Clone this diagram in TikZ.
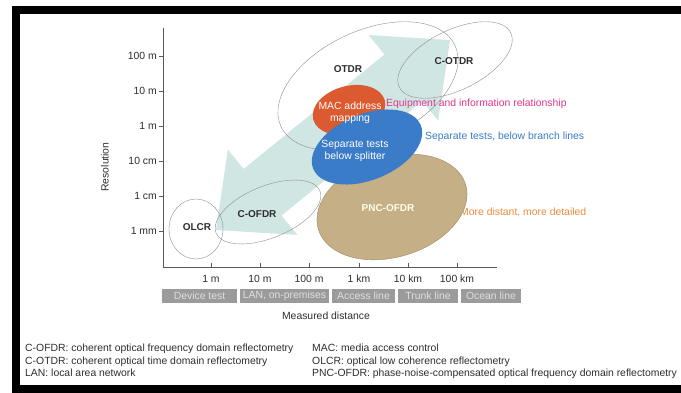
\documentclass[tikz,border=0pt]{standalone}
\usepackage{fontspec}
\setmainfont{Liberation Sans}
\usepackage{xcolor}
\definecolor{arrow-teal}{HTML}{CFE6E3}
\definecolor{mac-red}{HTML}{DC5A30}
\definecolor{split-blue}{HTML}{3B7CC8}
\definecolor{pnc-tan}{HTML}{C4AF86}
\definecolor{pnc-edge}{HTML}{A08C62}
\definecolor{note-pink}{HTML}{E0358C}
\definecolor{note-orange}{HTML}{EF8B3B}
\definecolor{band-gray}{HTML}{9B9B9B}
\definecolor{ink}{HTML}{2E2E2E}
\definecolor{ring-gray}{HTML}{8E8E8E}

\begin{document}
\begin{tikzpicture}[x=1pt, y=-1pt,
    every node/.style={font=\fontsize{10.4}{12}\selectfont, text=ink, inner sep=0pt},
    tag/.style={font=\fontsize{10}{12}\selectfont\bfseries},
    band/.style={fill=band-gray, text=black!12, minimum height=14pt}]
  \useasboundingbox (0,0) rectangle (681,393);
  \fill[black] (12,6) rectangle (681,393);
  \fill[white] (20,14) rectangle (681,385);

  % big double arrow
  \fill[arrow-teal] (216,230) -- (297.3,234.9) -- (281.5,215.5) -- (422.3,101.1)
    -- (438.1,120.5) -- (450,40) -- (368.7,35.1) -- (384.5,54.5)
    -- (243.7,168.9) -- (227.9,149.5) -- cycle;

  % outlined ranges
  \draw[ring-gray, rotate around={25:(368,86)}] (368,86) ellipse [x radius=96, y radius=55];
  \draw[ring-gray, rotate around={26:(455,60)}] (455,60) ellipse [x radius=62, y radius=30];
  \draw[ring-gray] (196,229) ellipse [x radius=27, y radius=30];
  \draw[ring-gray, rotate around={22:(268,212)}] (268,212) ellipse [x radius=56, y radius=26];

  \node[anchor=west, text=note-orange] (far) at (460,212) {More distant, more detailed};

  % filled ranges
  \filldraw[fill=pnc-tan, draw=pnc-edge, rotate around={17:(392,207)}] (392,207) ellipse [x radius=77, y radius=50];
  \fill[mac-red, rotate around={15:(349,110)}] (349,110) ellipse [x radius=37, y radius=24];
  \fill[split-blue, rotate around={22:(367,147)}] (367,147) ellipse [x radius=58, y radius=33];

  \node[tag] (otdr) at (348,69) {OTDR};
  \node[tag] (cotdr) at (454,61) {C-OTDR};
  \node[tag] (olcr) at (197,227) {OLCR};
  \node[tag] (cofdr) at (257,214) {C-OFDR};
  \node[tag, text=yellow!10!white] (pnc) at (388,208) {PNC-OFDR};
  \node[align=center, text=white] (mac) at (350,113) {MAC address\\mapping};
  \node[align=center, text=white] (split) at (355,151) {Separate tests\\below splitter};
  \node[anchor=west, text=note-pink] (equip) at (386,104) {Equipment and information relationship};
  \node[anchor=west, text=split-blue] (branch) at (425,137) {Separate tests, below branch lines};

  % axes
  \draw[ink!80] (163,28) -- (163,267) -- (497,267);
  \foreach \y/\t in {56/100 m, 91/10 m, 126/1 m, 161/10 cm, 196/1 cm, 231/1 mm} {
    \draw[ink!80] (159,\y) -- (163,\y);
    \node[anchor=east] (res-\y) at (157,\y) {\t};
  }
  \foreach \x/\t in {211/1 m, 260/10 m, 309/100 m, 359/1 km, 408/10 km, 457/100 km} {
    \draw[ink!80] (\x,263) -- (\x,267);
    \node (dist-\x) at (\x,279) {\t};
  }
  \node[rotate=90] (ylabel) at (105,167) {Resolution};

  \node[band, minimum width=75pt] (dev) at (199.5,296) {Device test};
  \node[band, minimum width=89pt] (lan) at (284.5,296) {LAN, on-premises};
  \node[band, minimum width=63pt] (acc) at (363.5,296) {Access line};
  \node[band, minimum width=60pt] (trunk) at (428,296) {Trunk line};
  \node[band, minimum width=60pt] (ocean) at (491,296) {Ocean line};
  \node (xlabel) at (326,316) {Measured distance};

  % abbreviations
  \node[anchor=base west] (ab1) at (25,352) {C-OFDR: coherent optical frequency domain reflectometry};
  \node[anchor=base west] (ab2) at (25,364) {C-OTDR: coherent optical time domain reflectometry};
  \node[anchor=base west] (ab3) at (25,376) {LAN: local area network};
  \node[anchor=base west] (ab4) at (312,352) {MAC: media access control};
  \node[anchor=base west] (ab5) at (312,364) {OLCR: optical low coherence reflectometry};
  \node[anchor=base west] (ab6) at (312,376) {PNC-OFDR: phase-noise-compensated optical frequency domain reflectometry};
\end{tikzpicture}
\end{document}
